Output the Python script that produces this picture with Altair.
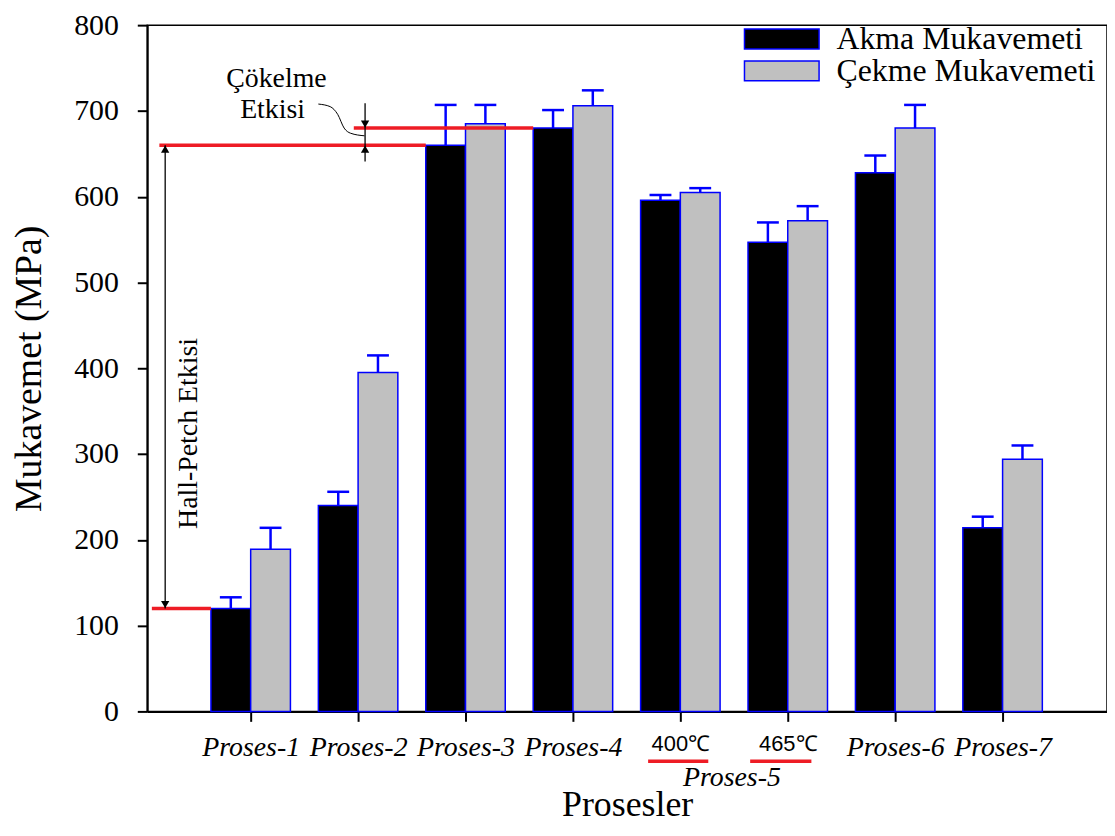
import json
import altair as alt
import pandas as pd

# ---------------- data ----------------
categories = ["Proses-1", "Proses-2", "Proses-3", "Proses-4", "400℃", "465℃", "Proses-6", "Proses-7"]
series = ["Akma Mukavemeti", "Çekme Mukavemeti"]
akma = [120, 240, 660, 680, 596, 547, 628, 214]
akma_err = [13, 16, 47, 21, 6, 23, 20, 13]
cekme = [189, 395, 685, 706, 605, 572, 680, 294]
cekme_err = [25, 20, 22, 18, 5, 17, 27, 16]

# annotation values (in data units)
red_y = [120, 660, 680]
red_x0 = [0.08, 0.15, 1.96]
red_x1 = [0.63, 2.63, 3.63]
arrow_x = [0.204, 2.065]
arrow_y0 = [120, 641]
arrow_y1 = [660, 709]
down_head_x = [0.204, 2.065]
down_head_y = [120, 680]
up_head_x = [0.204, 2.065]
up_head_y = [660, 660]
curve_x = [1.63, 1.74, 1.81, 1.87, 1.93, 2.06]
curve_y = [708, 705, 696, 680, 674, 671]
notes_text = ["Çökelme", "Etkisi"]
notes_x = [1.24, 1.204]
notes_y = [737, 701]
hall_text = ["Hall-Petch Etkisi"]
hall_x = [0.43]
hall_y = [324]
temp_line_x0 = [4.70, 5.65]
temp_line_x1 = [5.26, 6.22]
temp_line_y = [-58, -58]
group_text = ["Proses-5"]
group_x = [5.48]
group_y = [-78]

# ---------------- frames ----------------
BW = 0.37
rows = []
for i, c in enumerate(categories):
    pos = i + 1
    rows.append(dict(cat=c, series=series[0], val=akma[i], top=akma[i] + akma_err[i],
                     x0=pos - BW, x1=pos, xc=pos - BW / 2, base=0))
    rows.append(dict(cat=c, series=series[1], val=cekme[i], top=cekme[i] + cekme_err[i],
                     x0=pos, x1=pos + BW, xc=pos + BW / 2, base=0))
df = pd.DataFrame(rows)

red_df = pd.DataFrame(dict(x0=red_x0, x1=red_x1, y=red_y))
arrow_df = pd.DataFrame(dict(x=arrow_x, y0=arrow_y0, y1=arrow_y1))
down_df = pd.DataFrame(dict(x=down_head_x, y=down_head_y))
up_df = pd.DataFrame(dict(x=up_head_x, y=up_head_y))
curve_df = pd.DataFrame(dict(x=curve_x, y=curve_y))
notes_df = pd.DataFrame(dict(t=notes_text, x=notes_x, y=notes_y))
hall_df = pd.DataFrame(dict(t=hall_text, x=hall_x, y=hall_y))
temp_df = pd.DataFrame(dict(x0=temp_line_x0, x1=temp_line_x1, y=temp_line_y))
group_df = pd.DataFrame(dict(t=group_text, x=group_x, y=group_y))

SERIF = "Liberation Serif"
xs = alt.Scale(domain=[0.037, 8.972], nice=False, zero=False)
ys = alt.Scale(domain=[0, 800], nice=False)

label_expr = json.dumps(categories) + "[round(datum.value) - 1]"
is_temp = "datum.value == 5 || datum.value == 6"

x_axis = alt.Axis(
    values=list(range(1, len(categories) + 1)),
    labelExpr=label_expr,
    labelFont={"condition": {"test": is_temp, "value": "Liberation Sans"}, "value": SERIF},
    labelFontStyle={"condition": {"test": is_temp, "value": "normal"}, "value": "italic"},
    labelFontSize={"condition": {"test": is_temp, "value": 22}, "value": 28},
    labelColor="black", labelPadding=12, labelOverlap=False, labelFlush=False, labelBound=False,
    tickColor="black", tickSize=10, tickWidth=2, domainColor="black", domainWidth=2,
    grid=False, title="Prosesler", titleFont=SERIF, titleFontSize=36,
    titleFontWeight="normal", titleColor="black", titlePadding=27,
)
y_axis = alt.Axis(
    values=list(range(0, 801, 100)),
    labelFont=SERIF, labelFontSize=30, labelColor="black", labelPadding=19,
    tickColor="black", tickSize=10, tickWidth=2, domainColor="black", domainWidth=2,
    grid=False, title="Mukavemet (MPa)", titleFont=SERIF, titleFontSize=38,
    titleFontWeight="normal", titleColor="black", titlePadding=25,
)

base = alt.Chart(df)
bars = base.mark_bar(stroke="#0000ff", strokeWidth=1.5).encode(
    x=alt.X("x0:Q", scale=xs, axis=x_axis),
    x2="x1:Q",
    y=alt.Y("val:Q", scale=ys, axis=y_axis),
    y2="base:Q",
    color=alt.Color("series:N",
                    scale=alt.Scale(domain=series, range=["#000000", "#c0c0c0"]),
                    legend=alt.Legend(
                        title=None, orient="none", legendX=622, legendY=-2,
                        symbolType="M-3.75,-1H3.75V1H-3.75Z", symbolSize=400,
                        symbolStrokeColor="#0000ff", symbolStrokeWidth=1.5, symbolOpacity=1,
                        labelFont=SERIF, labelFontSize=32, labelColor="black",
                        labelOffset=39, rowPadding=-6, labelLimit=400)),
)
err = base.mark_rule(color="#0000ff", strokeWidth=2.5).encode(
    x=alt.X("xc:Q", scale=xs), y=alt.Y("val:Q", scale=ys), y2="top:Q")
caps = base.mark_tick(color="#0000ff", orient="horizontal", size=22, thickness=2.5, opacity=1).encode(
    x=alt.X("xc:Q", scale=xs), y=alt.Y("top:Q", scale=ys))

red = alt.Chart(red_df).mark_rule(color="#ee1c25", strokeWidth=3.5).encode(
    x=alt.X("x0:Q", scale=xs), x2="x1:Q", y=alt.Y("y:Q", scale=ys))
arrows = alt.Chart(arrow_df).mark_rule(color="black", strokeWidth=1.3).encode(
    x=alt.X("x:Q", scale=xs), y=alt.Y("y0:Q", scale=ys), y2="y1:Q")
down = alt.Chart(down_df).mark_point(shape="triangle-down", filled=True, color="black",
                                     size=70, opacity=1, yOffset=-4).encode(
    x=alt.X("x:Q", scale=xs), y=alt.Y("y:Q", scale=ys))
up = alt.Chart(up_df).mark_point(shape="triangle-up", filled=True, color="black",
                                 size=70, opacity=1, yOffset=4).encode(
    x=alt.X("x:Q", scale=xs), y=alt.Y("y:Q", scale=ys))
curve = alt.Chart(curve_df).mark_line(color="black", strokeWidth=1, interpolate="monotone").encode(
    x=alt.X("x:Q", scale=xs), y=alt.Y("y:Q", scale=ys))
notes = alt.Chart(notes_df).mark_text(font=SERIF, fontSize=28, color="black",
                                      align="center", baseline="middle").encode(
    x=alt.X("x:Q", scale=xs), y=alt.Y("y:Q", scale=ys), text="t:N")
hall = alt.Chart(hall_df).mark_text(font=SERIF, fontSize=28, color="black", angle=270,
                                    align="center", baseline="middle").encode(
    x=alt.X("x:Q", scale=xs), y=alt.Y("y:Q", scale=ys), text="t:N")
temp = alt.Chart(temp_df).mark_rule(color="#ee1c25", strokeWidth=3.5).encode(
    x=alt.X("x0:Q", scale=xs), x2="x1:Q", y=alt.Y("y:Q", scale=ys))
group = alt.Chart(group_df).mark_text(font=SERIF, fontSize=28, fontStyle="italic", color="black",
                                      align="center", baseline="middle").encode(
    x=alt.X("x:Q", scale=xs), y=alt.Y("y:Q", scale=ys), text="t:N")

chart = alt.layer(bars, err, caps, red, arrows, down, up, curve, notes, hall, temp, group).properties(
    width=965, height=690,
    autosize=alt.AutoSizeParams(type="none"),
    padding={"left": 140, "top": 15, "right": 0, "bottom": 114},
).configure_view(stroke="black", strokeWidth=1.5)

chart.save("out.html", embed_options={"renderer": "svg", "actions": False})
